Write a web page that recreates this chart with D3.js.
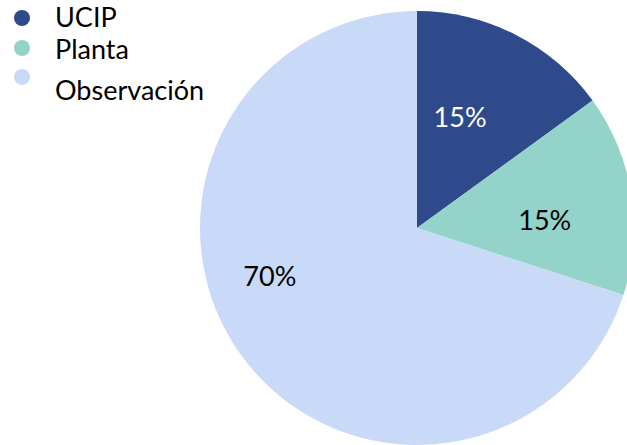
<!DOCTYPE html>
<html>
<head>
<meta charset="utf-8">
<script src="https://cdn.jsdelivr.net/npm/d3@7"></script>
<style>
  body { margin: 0; background: #fff; }
  svg { display: block; }
</style>
</head>
<body>
<div id="chart"></div>
<script>
var categories = ["UCIP", "Planta", "Observación"];
var values = [15, 15, 70];
var labels = ["15%", "15%", "70%"];
var colors = ["#2f4a8a", "#93d3c9", "#c9daf8"];
var labelColors = ["#ffffff", "#000000", "#000000"];

var width = 627, height = 445;
var cx = 417, cy = 228, radius = 217;
var font = "Lato, 'Open Sans', sans-serif";

var svg = d3.select("#chart")
  .append("svg")
    .attr("width", width)
    .attr("height", height);

var pie = d3.pie().sort(null).value(function(d) { return d; });
var arcs = pie(values);

var arc = d3.arc().innerRadius(0).outerRadius(radius);

var g = svg.append("g")
  .attr("transform", "translate(" + cx + "," + cy + ")");

g.selectAll("path")
  .data(arcs)
  .enter()
  .append("path")
    .attr("d", arc)
    .attr("fill", function(d, i) { return colors[i]; });

// label placement (roughly how the original places them)
var labelRadius = [118.5, 128, 155];
var labelShift = [-5.7, 5.4, 17.7];   // degrees
g.selectAll(".lbl")
  .data(arcs)
  .enter()
  .append("text")
    .attr("class", "lbl")
    .attr("transform", function(d, i) {
      var a = (d.startAngle + d.endAngle) / 2 + labelShift[i] * Math.PI / 180;
      return "translate(" + (labelRadius[i] * Math.sin(a)) + "," + (-labelRadius[i] * Math.cos(a)) + ")";
    })
    .attr("text-anchor", "middle")
    .attr("dy", "0.36em")
    .style("font", "27px " + font)
    .attr("fill", function(d, i) { return labelColors[i]; })
    .text(function(d, i) { return labels[i]; });

// legend: dots and texts are not on the same rows in the original
var dotY = [18, 48, 77];
var textY = [27, 59, 100];
var legend = svg.append("g");

legend.selectAll("circle")
  .data(categories)
  .enter()
  .append("circle")
    .attr("cx", 22)
    .attr("cy", function(d, i) { return dotY[i]; })
    .attr("r", 8)
    .attr("fill", function(d, i) { return colors[i]; });

legend.selectAll("text")
  .data(categories)
  .enter()
  .append("text")
    .attr("x", 55)
    .attr("y", function(d, i) { return textY[i]; })
    .style("font", "27px " + font)
    .attr("fill", "#000")
    .text(function(d) { return d; });
</script>
</body>
</html>
